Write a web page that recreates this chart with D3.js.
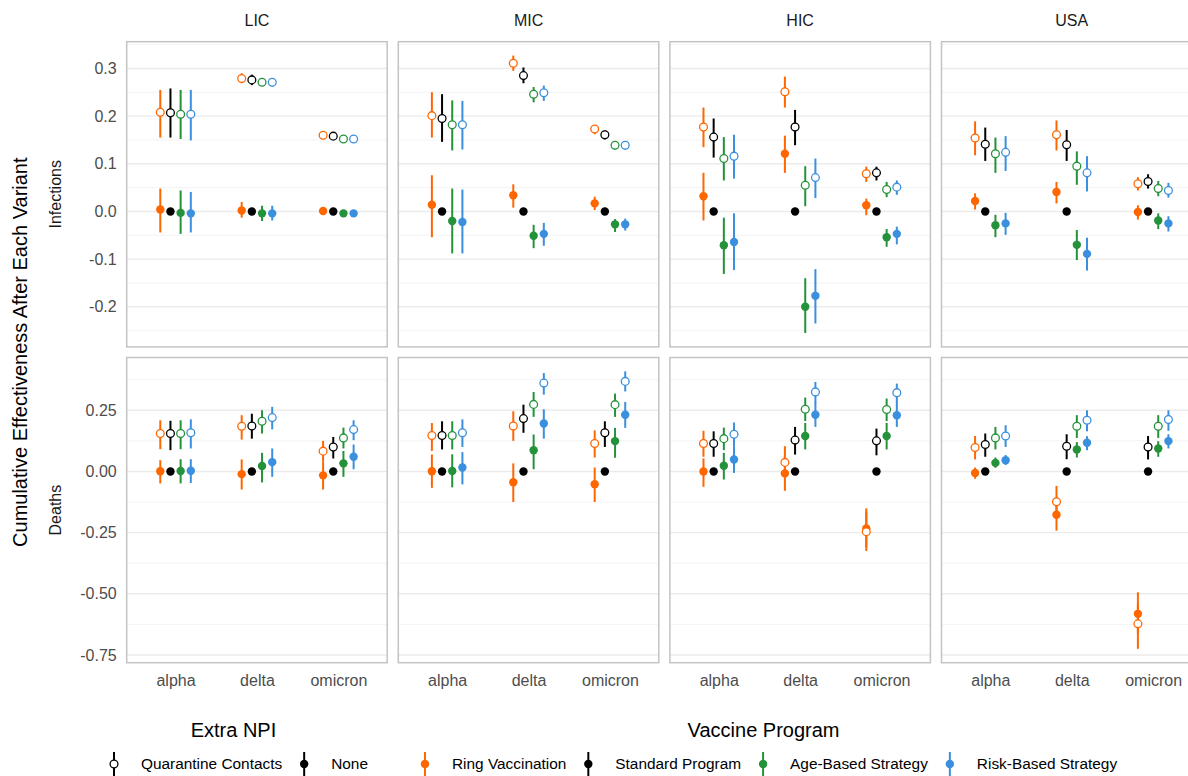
<!DOCTYPE html>
<html>
<head>
<meta charset="utf-8">
<script src="https://cdn.jsdelivr.net/npm/d3@7"></script>
<style>
  html, body { margin: 0; padding: 0; background: #fff; }
  svg { display: block; font-family: "Liberation Sans", Arial, Helvetica, sans-serif; }
</style>
</head>
<body>
<svg id="chart" width="1188" height="776"></svg>
<script>
// Facets and categories
const regions = ["LIC", "MIC", "HIC", "USA"];
const outcomes = ["Infections", "Deaths"];
const variants = ["alpha", "delta", "omicron"];
const programs = ["Ring Vaccination", "Standard Program", "Age-Based Strategy", "Risk-Based Strategy"];
const programColors = ["#FF6600", "#000000", "#24923A", "#3A8FDE"];
const npis = ["Quarantine Contacts", "None"];

// Tick values and labels per outcome row
const infectionTicks = [-0.2, -0.1, 0, 0.1, 0.2, 0.3];
const infectionTickLabels = ["-0.2", "-0.1", "0.0", "0.1", "0.2", "0.3"];
const deathTicks = [-0.75, -0.5, -0.25, 0, 0.25];
const deathTickLabels = ["-0.75", "-0.50", "-0.25", "0.00", "0.25"];

// Estimates: region, variant, then [estimate, lower, upper] for
// Ring Vaccination, Standard Program, Age-Based Strategy, Risk-Based Strategy
const infectionsQC = [
  ["LIC", "alpha",   [0.208, 0.155, 0.255], [0.207, 0.155, 0.258], [0.204, 0.152, 0.255], [0.204, 0.149, 0.255]],
  ["LIC", "delta",   [0.279, 0.269, 0.290], [0.276, 0.265, 0.287], [0.271, 0.263, 0.280], [0.271, 0.262, 0.280]],
  ["LIC", "omicron", [0.160, 0.157, 0.163], [0.158, 0.155, 0.161], [0.152, 0.149, 0.155], [0.152, 0.149, 0.155]],
  ["MIC", "alpha",   [0.201, 0.155, 0.250], [0.195, 0.146, 0.246], [0.182, 0.128, 0.233], [0.182, 0.130, 0.232]],
  ["MIC", "delta",   [0.311, 0.295, 0.327], [0.285, 0.269, 0.302], [0.246, 0.229, 0.261], [0.249, 0.232, 0.264]],
  ["MIC", "omicron", [0.173, 0.162, 0.181], [0.161, 0.151, 0.170], [0.139, 0.130, 0.147], [0.139, 0.130, 0.147]],
  ["HIC", "alpha",   [0.177, 0.135, 0.218], [0.156, 0.113, 0.195], [0.111, 0.065, 0.156], [0.116, 0.069, 0.161]],
  ["HIC", "delta",   [0.251, 0.218, 0.283], [0.177, 0.139, 0.213], [0.055, 0.011, 0.095], [0.071, 0.028, 0.111]],
  ["HIC", "omicron", [0.079, 0.062, 0.094], [0.081, 0.065, 0.094], [0.046, 0.030, 0.062], [0.051, 0.035, 0.065]],
  ["USA", "alpha",   [0.154, 0.118, 0.189], [0.141, 0.106, 0.176], [0.121, 0.081, 0.155], [0.124, 0.085, 0.158]],
  ["USA", "delta",   [0.161, 0.128, 0.191], [0.140, 0.106, 0.171], [0.095, 0.056, 0.126], [0.081, 0.042, 0.116]],
  ["USA", "omicron", [0.058, 0.044, 0.072], [0.063, 0.048, 0.078], [0.048, 0.032, 0.064], [0.044, 0.029, 0.060]]
];

const infectionsNone = [
  ["LIC", "alpha",   [0.004, -0.044, 0.048], [0, null, null], [-0.003, -0.047, 0.044], [-0.004, -0.044, 0.041]],
  ["LIC", "delta",   [0.002, -0.013, 0.020], [0, null, null], [-0.004, -0.020, 0.012], [-0.004, -0.019, 0.012]],
  ["LIC", "omicron", [0.001, -0.002, 0.004], [0, null, null], [-0.004, -0.007, -0.001], [-0.004, -0.007, -0.001]],
  ["MIC", "alpha",   [0.014, -0.054, 0.076], [0, null, null], [-0.020, -0.088, 0.048], [-0.022, -0.088, 0.046]],
  ["MIC", "delta",   [0.034, 0.008, 0.057], [0, null, null], [-0.051, -0.077, -0.028], [-0.047, -0.072, -0.024]],
  ["MIC", "omicron", [0.017, 0.003, 0.031], [0, null, null], [-0.027, -0.043, -0.016], [-0.027, -0.040, -0.015]],
  ["HIC", "alpha",   [0.032, -0.019, 0.081], [0, null, null], [-0.071, -0.131, -0.013], [-0.064, -0.123, -0.004]],
  ["HIC", "delta",   [0.121, 0.081, 0.159], [0, null, null], [-0.200, -0.255, -0.140], [-0.177, -0.235, -0.121]],
  ["HIC", "omicron", [0.013, -0.008, 0.027], [0, null, null], [-0.054, -0.074, -0.037], [-0.047, -0.069, -0.032]],
  ["USA", "alpha",   [0.022, 0.004, 0.038], [0, null, null], [-0.029, -0.054, -0.007], [-0.025, -0.049, -0.003]],
  ["USA", "delta",   [0.041, 0.017, 0.062], [0, null, null], [-0.070, -0.102, -0.039], [-0.089, -0.124, -0.055]],
  ["USA", "omicron", [-0.001, -0.017, 0.013], [0, null, null], [-0.019, -0.037, -0.004], [-0.025, -0.042, -0.010]]
];

const deathsQC = [
  ["LIC", "alpha",   [0.155, 0.091, 0.209], [0.155, 0.087, 0.207], [0.155, 0.091, 0.209], [0.158, 0.094, 0.213]],
  ["LIC", "delta",   [0.185, 0.130, 0.230], [0.186, 0.134, 0.236], [0.205, 0.155, 0.250], [0.220, 0.172, 0.264]],
  ["LIC", "omicron", [0.083, 0.040, 0.125], [0.100, 0.053, 0.141], [0.137, 0.094, 0.179], [0.171, 0.128, 0.209]],
  ["MIC", "alpha",   [0.147, 0.084, 0.198], [0.147, 0.090, 0.205], [0.147, 0.090, 0.205], [0.158, 0.100, 0.213]],
  ["MIC", "delta",   [0.186, 0.125, 0.246], [0.216, 0.158, 0.273], [0.274, 0.223, 0.325], [0.361, 0.314, 0.402]],
  ["MIC", "omicron", [0.114, 0.057, 0.168], [0.158, 0.100, 0.205], [0.273, 0.223, 0.318], [0.368, 0.327, 0.409]],
  ["HIC", "alpha",   [0.114, 0.060, 0.166], [0.114, 0.060, 0.164], [0.134, 0.087, 0.179], [0.152, 0.103, 0.200]],
  ["HIC", "delta",   [0.037, -0.020, 0.103], [0.128, 0.069, 0.182], [0.254, 0.206, 0.302], [0.325, 0.281, 0.366]],
  ["HIC", "omicron", [-0.246, -0.325, -0.165], [0.125, 0.066, 0.175], [0.253, 0.206, 0.298], [0.322, 0.281, 0.359]],
  ["USA", "alpha",   [0.098, 0.049, 0.145], [0.110, 0.060, 0.155], [0.137, 0.090, 0.182], [0.145, 0.100, 0.189]],
  ["USA", "delta",   [-0.124, -0.190, -0.059], [0.103, 0.050, 0.152], [0.185, 0.137, 0.230], [0.209, 0.164, 0.250]],
  ["USA", "omicron", [-0.623, -0.725, -0.540], [0.100, 0.049, 0.145], [0.185, 0.137, 0.230], [0.212, 0.166, 0.250]]
];

const deathsNone = [
  ["LIC", "alpha",   [0.001, -0.049, 0.046], [0, null, null], [0.002, -0.049, 0.050], [0.003, -0.047, 0.050]],
  ["LIC", "delta",   [-0.011, -0.074, 0.049], [0, null, null], [0.022, -0.045, 0.076], [0.038, -0.022, 0.094]],
  ["LIC", "omicron", [-0.016, -0.074, 0.040], [0, null, null], [0.033, -0.022, 0.084], [0.060, 0.009, 0.110]],
  ["MIC", "alpha",   [0.001, -0.067, 0.069], [0, null, null], [0.002, -0.065, 0.070], [0.016, -0.053, 0.079]],
  ["MIC", "delta",   [-0.044, -0.125, 0.033], [0, null, null], [0.087, 0.009, 0.151], [0.196, 0.134, 0.254]],
  ["MIC", "omicron", [-0.052, -0.125, 0.016], [0, null, null], [0.124, 0.056, 0.178], [0.232, 0.178, 0.284]],
  ["HIC", "alpha",   [0.000, -0.063, 0.053], [0, null, null], [0.023, -0.033, 0.076], [0.049, -0.006, 0.103]],
  ["HIC", "delta",   [-0.008, -0.079, 0.030], [0, null, null], [0.145, 0.090, 0.198], [0.232, 0.182, 0.284]],
  ["HIC", "omicron", [-0.233, -0.310, -0.151], [0, null, null], [0.145, 0.090, 0.198], [0.230, 0.182, 0.284]],
  ["USA", "alpha",   [-0.006, -0.030, 0.016], [0, null, null], [0.035, 0.015, 0.057], [0.046, 0.027, 0.067]],
  ["USA", "delta",   [-0.177, -0.242, -0.110], [0, null, null], [0.090, 0.057, 0.120], [0.117, 0.087, 0.144]],
  ["USA", "omicron", [-0.582, -0.660, -0.494], [0, null, null], [0.094, 0.060, 0.124], [0.124, 0.094, 0.152]]
];

// ---- Flatten into long rows -------------------------------------------
function flatten(table, outcome, npi) {
  const out = [];
  table.forEach(r => {
    programs.forEach((p, i) => {
      const v = r[2 + i];
      out.push({ outcome, npi, region: r[0], variant: r[1], program: p, pi: i,
                 est: v[0], lo: v[1], hi: v[2] });
    });
  });
  return out;
}
const rows = [].concat(
  flatten(infectionsNone, "Infections", "None"),
  flatten(infectionsQC, "Infections", "Quarantine Contacts"),
  flatten(deathsNone, "Deaths", "None"),
  flatten(deathsQC, "Deaths", "Quarantine Contacts")
);

// ---- Layout ------------------------------------------------------------
const svg = d3.select("#chart");
const panelX0 = 126.7, panelW = 260.5, panelGapX = 11.1;
const panelY0 = 41.7, panelH = 305.2, panelGapY = 10.6;
const axisGrey = "#4d4d4d";

const rowTicks = {
  Infections: { values: infectionTicks, labels: infectionTickLabels },
  Deaths: { values: deathTicks, labels: deathTickLabels }
};

// Shared y scale per row with 5% expansion
const yScales = {};
outcomes.forEach((o, ri) => {
  const rs = rows.filter(d => d.outcome === o);
  const mn = d3.min(rs, d => d.lo == null ? d.est : d.lo);
  const mx = d3.max(rs, d => d.hi == null ? d.est : d.hi);
  const pad = (mx - mn) * 0.05;
  const top = panelY0 + ri * (panelH + panelGapY);
  yScales[o] = d3.scaleLinear().domain([mn - pad, mx + pad]).range([top + panelH, top]);
});

const xBase = d3.scalePoint().domain(variants).range([0, panelW]).padding(0.6);
const dodge = d3.scaleLinear().domain([0, programs.length - 1])
  .range([-1.5, 1.5].map(k => k * xBase.step() * 0.5 / programs.length));

// ---- Panels -------------------------------------------------------------
outcomes.forEach((o, ri) => {
  const y = yScales[o];
  const [yb, yt] = y.range();
  const ticks = rowTicks[o];
  const step = ticks.values[1] - ticks.values[0];
  const minors = d3.range(ticks.values[0] - step / 2, y.domain()[1], step)
    .filter(v => v >= y.domain()[0] && v <= y.domain()[1]);

  regions.forEach((rg, ci) => {
    const x0 = panelX0 + ci * (panelW + panelGapX);
    const g = svg.append("g").attr("transform", `translate(${x0},0)`);

    // grid
    g.selectAll("line.minor").data(minors).join("line")
      .attr("x1", 0).attr("x2", panelW)
      .attr("y1", d => y(d)).attr("y2", d => y(d))
      .attr("stroke", "#f2f2f2").attr("stroke-width", 0.9);
    g.selectAll("line.major").data(ticks.values).join("line")
      .attr("x1", 0).attr("x2", panelW)
      .attr("y1", d => y(d)).attr("y2", d => y(d))
      .attr("stroke", "#ebebeb").attr("stroke-width", 1.4);

    // point ranges: "None" first, then "Quarantine Contacts"
    const pr = rows.filter(d => d.outcome === o && d.region === rg);
    const xp = d => xBase(d.variant) + dodge(d.pi);
    const items = g.selectAll("g.pr").data(pr).join("g");
    items.filter(d => d.lo != null).append("line")
      .attr("x1", xp).attr("x2", xp)
      .attr("y1", d => y(d.lo)).attr("y2", d => y(d.hi))
      .attr("stroke", d => programColors[d.pi]).attr("stroke-width", 2);
    items.append("circle")
      .attr("cx", xp).attr("cy", d => y(d.est)).attr("r", d => d.npi === "None" ? 4.2 : 3.9)
      .attr("fill", d => d.npi === "None" ? programColors[d.pi] : "#fff")
      .attr("stroke", d => programColors[d.pi])
      .attr("stroke-width", d => d.npi === "None" ? 0 : 1.3);

    // border
    g.append("rect").attr("x", 0).attr("y", yt).attr("width", panelW).attr("height", yb - yt)
      .attr("fill", "none").attr("stroke", "#c4c4c4").attr("stroke-width", 1.5);

    // column strip labels
    if (ri === 0) {
      g.append("text").attr("x", panelW / 2).attr("y", 26)
        .attr("text-anchor", "middle").attr("font-size", 16).attr("fill", "#1a1a1a").text(rg);
    }
    // x axis on bottom row
    if (ri === outcomes.length - 1) {
      const ax = g.append("g").attr("transform", `translate(0,${yb + 6})`)
        .call(d3.axisBottom(xBase).tickSize(0).tickPadding(6));
      ax.select(".domain").remove();
      ax.selectAll("text").attr("font-size", 16).attr("fill", axisGrey)
        .attr("font-family", "Liberation Sans, Arial, sans-serif");
    }
  });

  // y axis
  const ay = svg.append("g").attr("transform", `translate(${panelX0 - 6},0)`)
    .call(d3.axisLeft(y).tickValues(ticks.values).tickSize(0).tickPadding(4)
      .tickFormat((d, i) => ticks.labels[i]));
  ay.select(".domain").remove();
  ay.selectAll("text").attr("font-size", 16).attr("fill", axisGrey)
    .attr("font-family", "Liberation Sans, Arial, sans-serif");

  // row strip label
  svg.append("text")
    .attr("transform", `translate(61,${(yt + yb) / 2}) rotate(-90)`)
    .attr("text-anchor", "middle").attr("font-size", 16).attr("fill", "#1a1a1a").text(o);
});

// y axis title
const yMid = (panelY0 + panelY0 + 2 * panelH + panelGapY) / 2;
svg.append("text")
  .attr("transform", `translate(27,${yMid}) rotate(-90)`)
  .attr("text-anchor", "middle").attr("font-size", 20).attr("fill", "#000")
  .text("Cumulative Effectiveness After Each Variant");

// ---- Legends ------------------------------------------------------------
const legendY = 764;
const legendGroups = [
  { title: "Extra NPI",
    items: npis.map(n => ({ label: n, color: "#000", open: n === "Quarantine Contacts" })) },
  { title: "Vaccine Program",
    items: programs.map((p, i) => ({ label: p, color: programColors[i], open: false })) }
];
let cursor = 105;
legendGroups.forEach((grp, gi) => {
  const lg = svg.append("g");
  const start = cursor;
  grp.items.forEach((it, ii) => {
    const kx = cursor + 9;
    lg.append("line").attr("x1", kx).attr("x2", kx).attr("y1", legendY - 12).attr("y2", legendY + 14)
      .attr("stroke", it.color).attr("stroke-width", 2);
    lg.append("circle").attr("cx", kx).attr("cy", legendY).attr("r", it.open ? 3.9 : 4.2)
      .attr("fill", it.open ? "#fff" : it.color)
      .attr("stroke", it.color).attr("stroke-width", it.open ? 1.3 : 0);
    const t = lg.append("text").attr("x", kx + 27).attr("y", legendY + 5.3)
      .attr("font-size", 15.4).attr("fill", "#000").text(it.label);
    const w = t.node().getComputedTextLength();
    cursor = kx + 27 + w + (ii < grp.items.length - 1 ? 13 : 0);
  });
  const end = cursor;
  lg.append("text").attr("x", (start + end) / 2 - 3).attr("y", 737)
    .attr("text-anchor", "middle").attr("font-size", 20).attr("fill", "#000").text(grp.title);
  cursor += 48;
});
</script>
</body>
</html>
